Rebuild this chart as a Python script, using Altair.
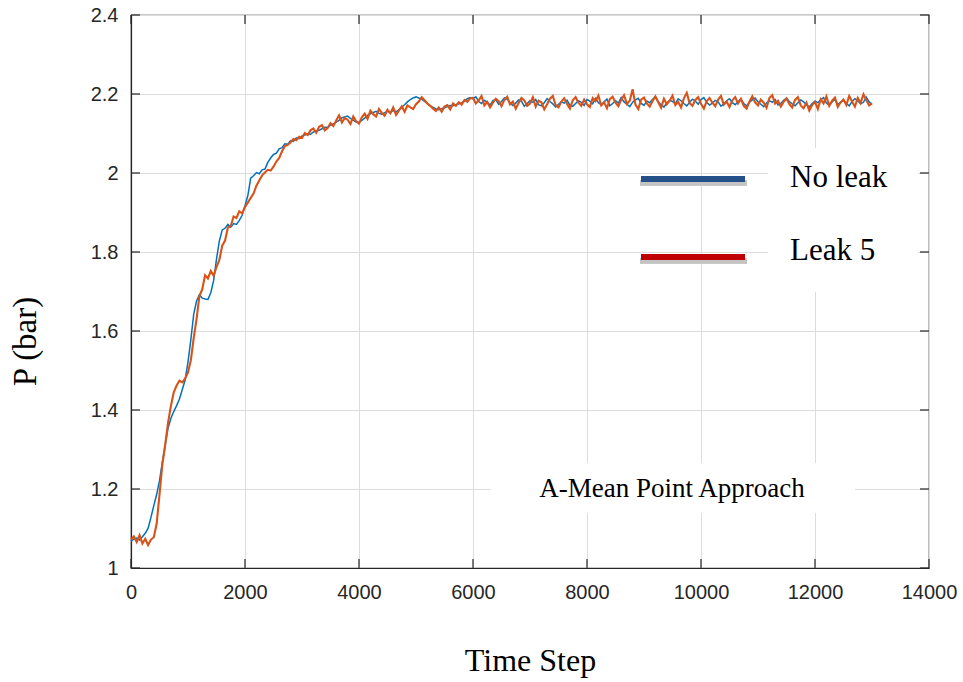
import altair as alt
import pandas as pd

# ---------------- data ----------------
steps = list(range(0, 13001, 50))

no_leak = [
    1.068, 1.073, 1.076, 1.071, 1.079, 1.088, 1.101, 1.128, 1.158, 1.186,
    1.221, 1.268, 1.311, 1.354, 1.379, 1.396, 1.411, 1.428, 1.452, 1.476,
    1.522, 1.578, 1.642, 1.676, 1.692, 1.683, 1.681, 1.680, 1.697, 1.728,
    1.782, 1.828, 1.856, 1.860, 1.870, 1.863, 1.872, 1.870, 1.880, 1.893,
    1.917, 1.943, 1.987, 1.993, 2.001, 1.998, 2.008, 2.010, 2.027, 2.038,
    2.047, 2.050, 2.061, 2.064, 2.074, 2.073, 2.082, 2.080, 2.089, 2.087,
    2.094, 2.096, 2.099, 2.098, 2.104, 2.106, 2.108, 2.112, 2.116, 2.115,
    2.121, 2.124, 2.129, 2.133, 2.140, 2.142, 2.144, 2.138, 2.134, 2.129,
    2.128, 2.133, 2.139, 2.146, 2.150, 2.153, 2.156, 2.151, 2.149, 2.153,
    2.156, 2.154, 2.158, 2.155, 2.160, 2.166, 2.173, 2.180, 2.186, 2.190,
    2.193, 2.190, 2.187, 2.181, 2.176, 2.170, 2.166, 2.162, 2.160, 2.163,
    2.165, 2.168, 2.171, 2.170, 2.173, 2.175, 2.177, 2.182, 2.188, 2.191,
    2.188, 2.193, 2.181, 2.176, 2.184, 2.179, 2.172, 2.183, 2.186, 2.174,
    2.181, 2.190, 2.187, 2.178, 2.171, 2.177, 2.185, 2.182, 2.169, 2.176,
    2.183, 2.179, 2.186, 2.173, 2.170, 2.178, 2.188, 2.181, 2.175, 2.167,
    2.174, 2.180, 2.177, 2.184, 2.172, 2.169, 2.176, 2.183, 2.179, 2.171,
    2.186, 2.182, 2.175, 2.189, 2.178, 2.173, 2.180, 2.187, 2.170, 2.176,
    2.183, 2.177, 2.191, 2.180, 2.174, 2.168, 2.179, 2.185, 2.189, 2.176,
    2.171, 2.182, 2.178, 2.186, 2.193, 2.180, 2.173, 2.167, 2.177, 2.184,
    2.181, 2.175, 2.188, 2.183, 2.176, 2.170, 2.179, 2.187, 2.182, 2.174,
    2.186, 2.191, 2.179, 2.172, 2.177, 2.184, 2.180, 2.169, 2.175, 2.183,
    2.188, 2.178, 2.173, 2.181, 2.187, 2.176, 2.170, 2.179, 2.185, 2.190,
    2.180, 2.174, 2.168, 2.177, 2.183, 2.179, 2.186, 2.172, 2.176, 2.184,
    2.189, 2.181, 2.175, 2.170, 2.178, 2.185, 2.180, 2.173, 2.167, 2.176,
    2.182, 2.178, 2.185, 2.191, 2.177, 2.171, 2.180, 2.186, 2.174, 2.179,
    2.184, 2.176, 2.170, 2.181, 2.188, 2.183, 2.175, 2.179, 2.192, 2.180,
    2.174,
]

leak5 = [
    1.072, 1.080, 1.066, 1.083, 1.062, 1.074, 1.058, 1.072, 1.078, 1.112,
    1.186, 1.262, 1.312, 1.368, 1.410, 1.445, 1.462, 1.474, 1.470, 1.480,
    1.495, 1.526, 1.582, 1.630, 1.688, 1.706, 1.741, 1.733, 1.752, 1.740,
    1.762, 1.780, 1.816, 1.829, 1.862, 1.866, 1.890, 1.886, 1.903, 1.898,
    1.914, 1.925, 1.937, 1.948, 1.968, 1.981, 1.994, 2.001, 2.008, 2.006,
    2.016, 2.029, 2.038, 2.055, 2.068, 2.071, 2.078, 2.086, 2.083, 2.092,
    2.089, 2.101, 2.096, 2.108, 2.113, 2.102, 2.117, 2.121, 2.108, 2.114,
    2.126, 2.119, 2.133, 2.146, 2.128, 2.139, 2.135, 2.124, 2.143, 2.131,
    2.125, 2.141, 2.150, 2.137, 2.158, 2.149, 2.143, 2.162, 2.152, 2.145,
    2.160, 2.151, 2.166, 2.147, 2.158, 2.169, 2.155, 2.171, 2.166, 2.162,
    2.174, 2.181, 2.192, 2.184, 2.176, 2.170, 2.163, 2.157, 2.166, 2.155,
    2.168, 2.172, 2.161, 2.176, 2.170, 2.179, 2.173, 2.185, 2.180, 2.189,
    2.190, 2.176, 2.184, 2.195, 2.171, 2.180, 2.166, 2.178, 2.188, 2.182,
    2.169, 2.185, 2.193, 2.174, 2.181, 2.163, 2.177, 2.190, 2.184, 2.170,
    2.176, 2.192, 2.168, 2.183, 2.179, 2.161, 2.174, 2.188, 2.195, 2.172,
    2.166, 2.181, 2.189, 2.175, 2.163, 2.184, 2.192, 2.178, 2.170, 2.186,
    2.174, 2.167, 2.190, 2.182, 2.196, 2.171, 2.179, 2.164, 2.187, 2.193,
    2.178, 2.169, 2.185, 2.197, 2.175, 2.183, 2.212, 2.173, 2.162, 2.186,
    2.191, 2.176, 2.168, 2.182, 2.194, 2.179, 2.165, 2.188, 2.174, 2.183,
    2.196, 2.172, 2.180, 2.166, 2.189, 2.203, 2.177, 2.170, 2.185, 2.192,
    2.175, 2.163, 2.182, 2.190, 2.178, 2.169, 2.186, 2.195, 2.173, 2.181,
    2.167, 2.184, 2.192, 2.176, 2.188, 2.170, 2.163, 2.181, 2.194, 2.179,
    2.171, 2.186, 2.178, 2.165, 2.190, 2.197, 2.176, 2.183, 2.168, 2.180,
    2.189, 2.174, 2.166, 2.185, 2.192, 2.171, 2.164, 2.178, 2.158, 2.172,
    2.180, 2.162, 2.187, 2.176, 2.194, 2.170, 2.183, 2.191, 2.167, 2.179,
    2.186, 2.172, 2.195, 2.181, 2.168, 2.190, 2.177, 2.199, 2.184, 2.171,
    2.176,
]

x_ticks = [0, 2000, 4000, 6000, 8000, 10000, 12000, 14000]
y_ticks = [1.0, 1.2, 1.4, 1.6, 1.8, 2.0, 2.2, 2.4]

legend_labels = ["No leak", "Leak 5"]
legend_colors = ["#24508a", "#c00000"]
note_text = "A-Mean Point Approach"

# ---------------- layout ----------------
W, H = 798, 553
INK = "#262626"

df_blue = pd.DataFrame({"step": steps, "p": no_leak})
df_red = pd.DataFrame({"step": steps, "p": leak5})
df_xt = pd.DataFrame({"step": x_ticks})
df_yt = pd.DataFrame({"p": y_ticks})

xscale = alt.Scale(domain=[0, 14000], nice=False)
yscale = alt.Scale(domain=[1.0, 2.4], nice=False, zero=False)

X = alt.X("step:Q", scale=xscale,
          axis=alt.Axis(values=x_ticks, format="d", title="Time Step",
                        labelPadding=14, labelFlush=False, titleFontSize=32,
                        titleBaseline="alphabetic", titleY=102))
Y = alt.Y("p:Q", scale=yscale,
          axis=alt.Axis(values=y_ticks, format="~g", title="P (bar)",
                        labelPadding=13, labelFlush=False, titleFontSize=33,
                        titleBaseline="alphabetic", titleAngle=-90,
                        titleX=-96, titleY=326, titleAlign="center"))

line_blue = alt.Chart(df_blue).mark_line(color="#0072BD", strokeWidth=1.5).encode(x=X, y=Y)
line_red = alt.Chart(df_red).mark_line(color="#D95319", strokeWidth=2.1).encode(x=X, y=Y)

tick_b = alt.Chart(df_xt).mark_rule(color=INK, strokeWidth=1.2).encode(
    x=X, y=alt.value(H), y2=alt.value(H - 9))
tick_t = alt.Chart(df_xt).mark_rule(color=INK, strokeWidth=1.2).encode(
    x=X, y=alt.value(0), y2=alt.value(9))
tick_l = alt.Chart(df_yt).mark_rule(color=INK, strokeWidth=1.2).encode(
    y=Y, x=alt.value(0), x2=alt.value(9))
tick_r = alt.Chart(df_yt).mark_rule(color=INK, strokeWidth=1.2).encode(
    y=Y, x=alt.value(W), x2=alt.value(W - 9))

# white boxes behind text (hide grid lines as in the original)
box_leg = alt.Chart(df_xt).mark_rect(color="white").encode(
    x=alt.value(637), x2=alt.value(787), y=alt.value(133), y2=alt.value(277))
box_note = alt.Chart(df_xt).mark_rect(color="white").encode(
    x=alt.value(360), x2=alt.value(724), y=alt.value(448), y2=alt.value(498))

# legend lines with a soft shadow
shadow1 = alt.Chart(df_xt).mark_rule(color="#c4c4c4", strokeWidth=5, opacity=0.5).encode(
    x=alt.value(509), x2=alt.value(616), y=alt.value(168), y2=alt.value(168))
shadow2 = alt.Chart(df_xt).mark_rule(color="#c4c4c4", strokeWidth=5, opacity=0.5).encode(
    x=alt.value(509), x2=alt.value(616), y=alt.value(246), y2=alt.value(246))
leg_blue = alt.Chart(df_xt).mark_rule(color=legend_colors[0], strokeWidth=5).encode(
    x=alt.value(510), x2=alt.value(614), y=alt.value(164), y2=alt.value(164))
leg_red = alt.Chart(df_xt).mark_rule(color=legend_colors[1], strokeWidth=5).encode(
    x=alt.value(510), x2=alt.value(614), y=alt.value(242), y2=alt.value(242))

txt_style = dict(font="Liberation Serif", color="black", baseline="alphabetic")
leg_t1 = alt.Chart(pd.DataFrame({"t": [legend_labels[0]]})).mark_text(
    align="left", fontSize=31, **txt_style).encode(text="t:N", x=alt.value(659), y=alt.value(172))
leg_t2 = alt.Chart(pd.DataFrame({"t": [legend_labels[1]]})).mark_text(
    align="left", fontSize=31, **txt_style).encode(text="t:N", x=alt.value(659), y=alt.value(245))
note = alt.Chart(pd.DataFrame({"t": [note_text]})).mark_text(
    align="center", fontSize=27, **txt_style).encode(text="t:N", x=alt.value(541), y=alt.value(482))

chart = alt.layer(
    box_leg, box_note, line_blue, line_red,
    tick_b, tick_t, tick_l, tick_r,
    shadow1, shadow2, leg_blue, leg_red, leg_t1, leg_t2, note,
).properties(
    width=W, height=H,
    background="white",
    autosize=alt.AutoSizeParams(type="none"),
    padding={"left": 131, "top": 15, "right": 34, "bottom": 114},
).configure_view(
    stroke=INK, strokeWidth=1.2
).configure_axis(
    grid=True, gridColor="#dcdcdc", gridWidth=1,
    domainColor=INK, domainWidth=1.2, tickSize=0,
    labelFont="Liberation Sans", labelFontSize=20, labelColor=INK,
    titleFont="Liberation Serif", titleColor="black", titleFontWeight="normal",
)

chart.save("out.html", embed_options={"renderer": "svg", "actions": False})
